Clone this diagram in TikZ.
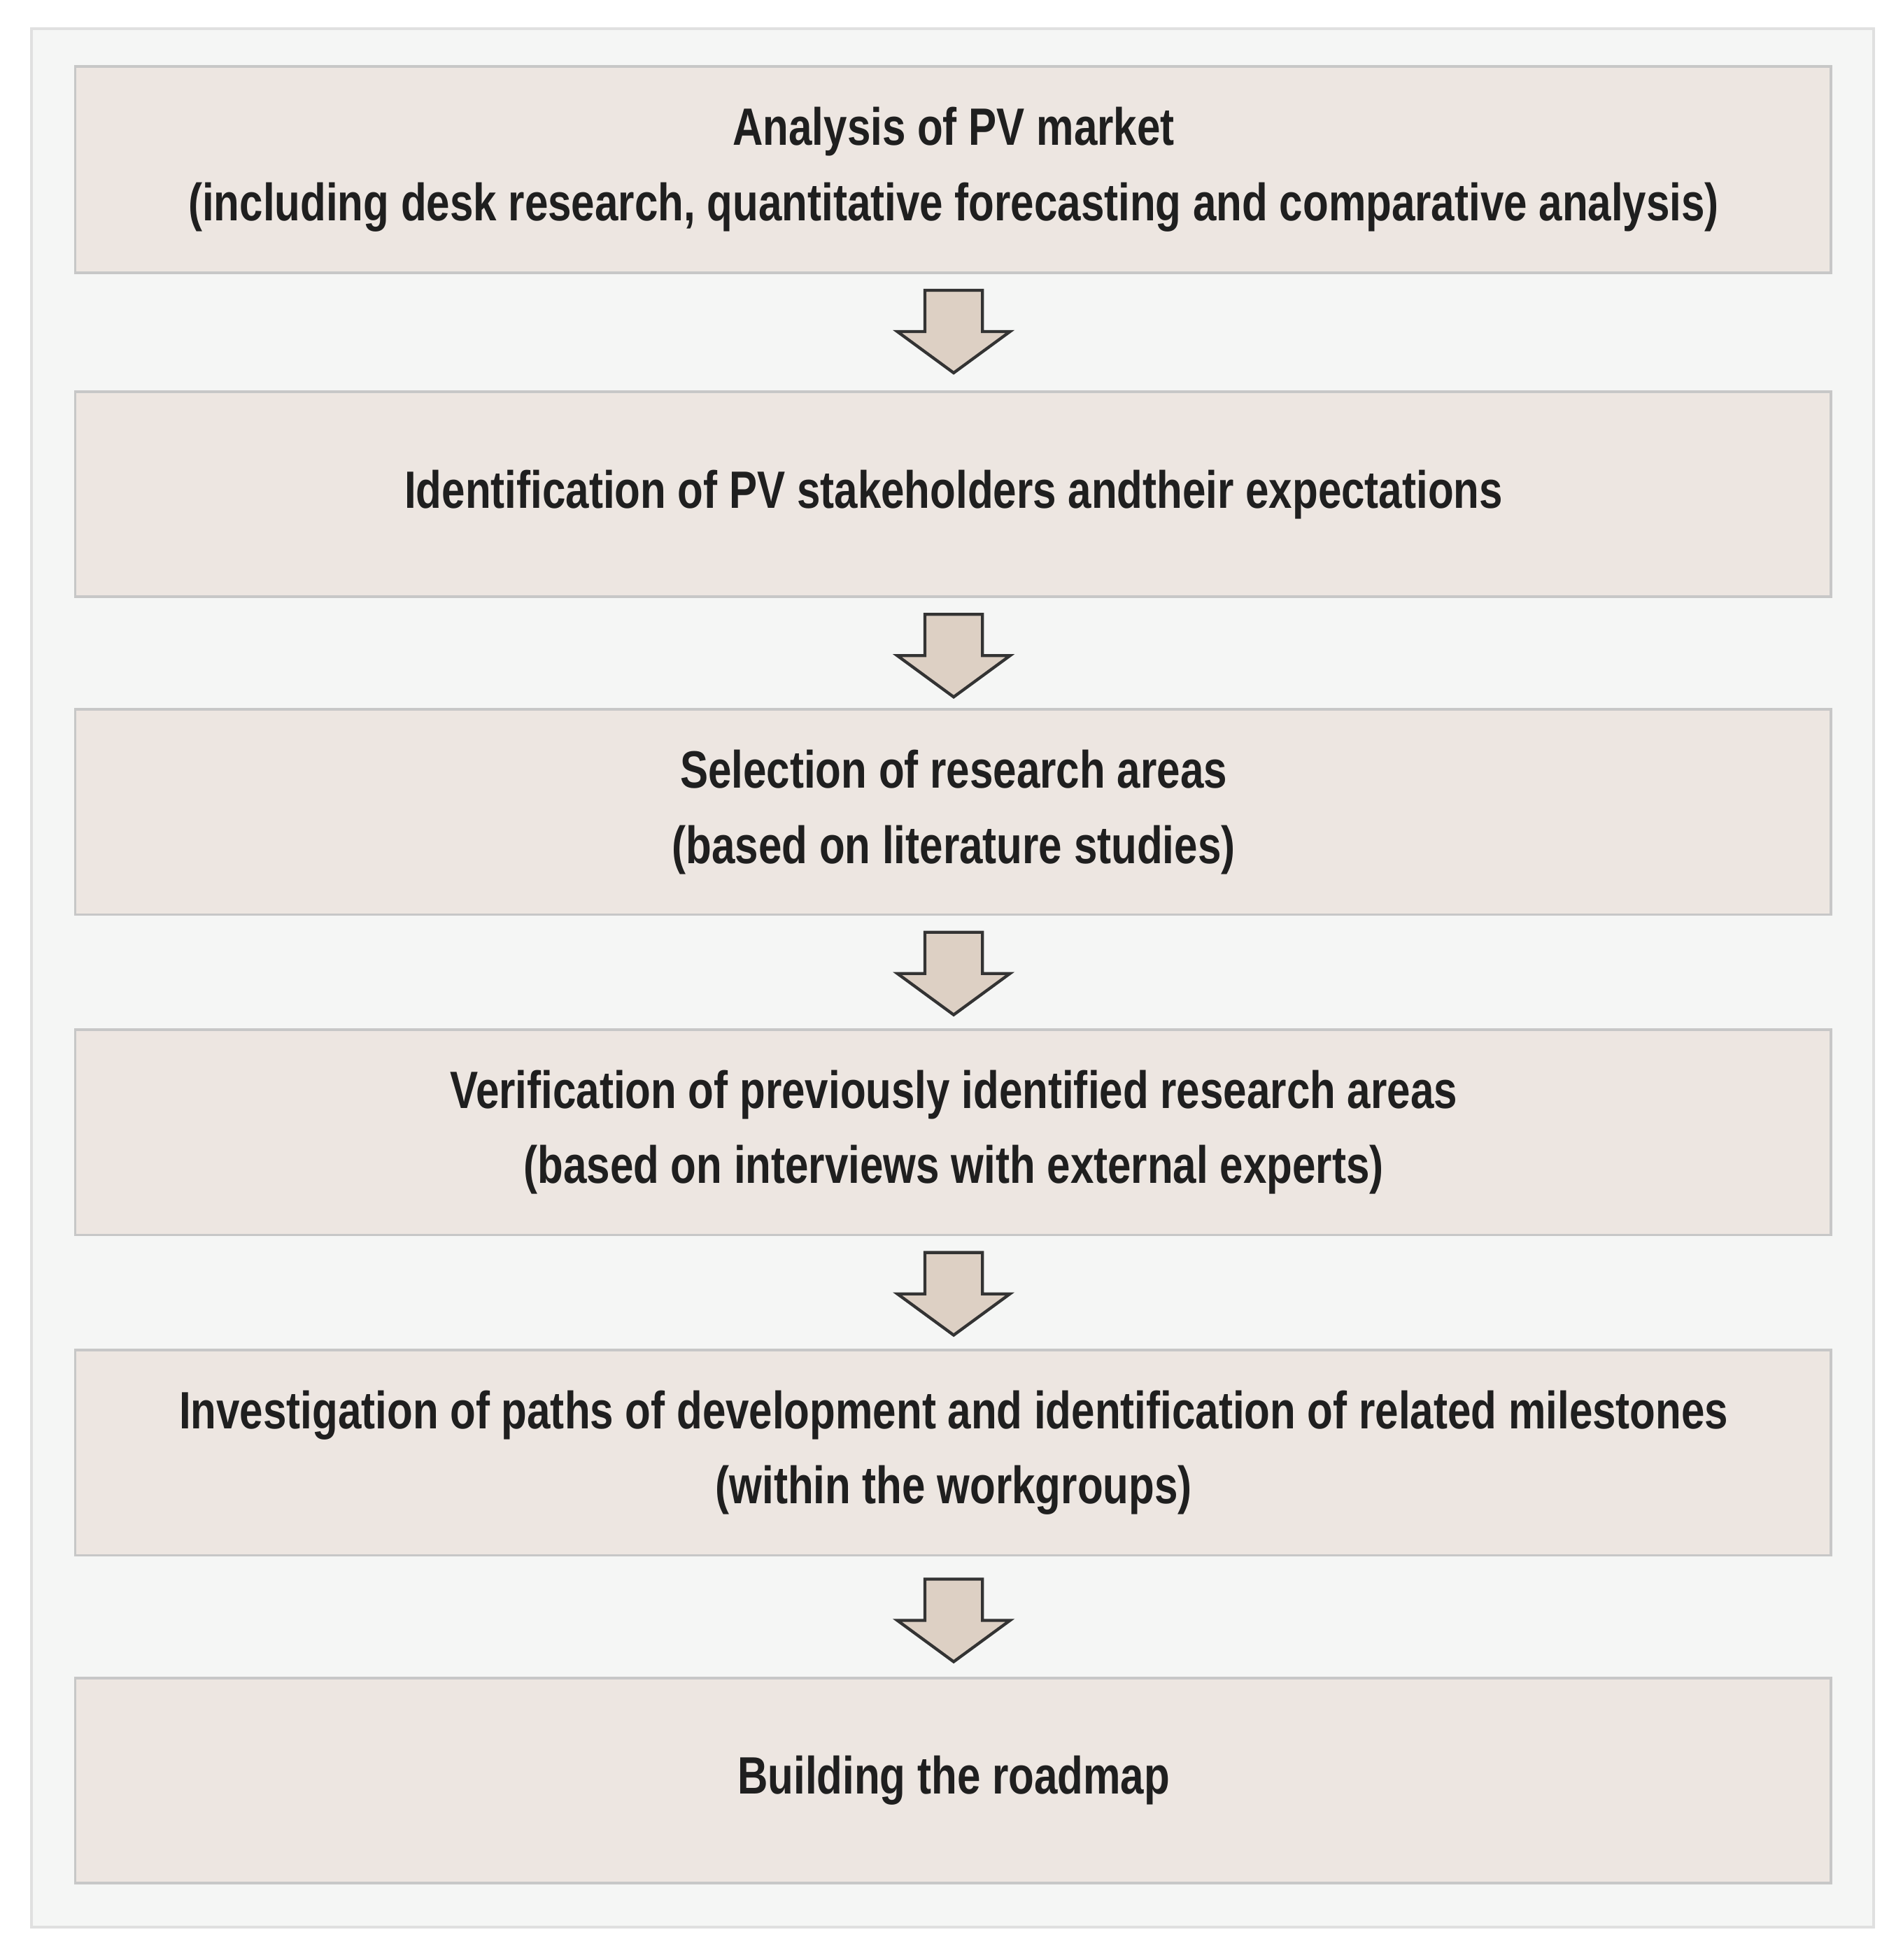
\documentclass[tikz,border=0pt]{standalone}
\usepackage{fontspec}
\setmainfont{Liberation Sans}[FakeStretch=0.8]
\begin{document}
\begin{tikzpicture}[x=0.5pt,y=-0.5pt,
  box/.style={draw=black!22,fill=boxc,line width=1pt},
  lbl/.style={font=\bfseries\fontsize{21}{30}\selectfont,align=center,text=black!88}]
\definecolor{boxc}{HTML}{EDE6E1}
\definecolor{bgc}{HTML}{F5F6F5}
\definecolor{arc}{HTML}{DDD0C4}
\useasboundingbox (0,0) rectangle (1520,1566.4);
\fill[white] (0,0) rectangle (1520,1566.4);
\draw[fill=bgc,draw=black!12,line width=1pt] (25,23) rectangle (1497,1540);
\def\ys{53/218/1,313/477/2,567/731/3,823/987/4,1079/1243/5,1341/1505/6}
\foreach \a/\b/\n in \ys {\draw[box] (60,\a) rectangle (1463,\b); \coordinate (c\n) at (762,{(\a+\b)/2});}
\node[lbl] (t1) at (c1) {Analysis of PV market\\(including desk research, quantitative forecasting and comparative analysis)};
\node[lbl] (t2) at (c2) {Identification of PV stakeholders andtheir expectations};
\node[lbl] (t3) at (c3) {Selection of research areas\\(based on literature studies)};
\node[lbl] (t4) at (c4) {Verification of previously identified research areas\\(based on interviews with external experts)};
\node[lbl] (t5) at (c5) {Investigation of paths of development and identification of related milestones\\(within the workgroups)};
\node[lbl] (t6) at (c6) {Building the roadmap};
\foreach \y in {232,491,745,1001,1262}{
  \draw[fill=arc,draw=black!80,line width=1.2pt,line join=miter]
   (739,\y) -- (785,\y) -- (785,\y+33) -- (807,\y+33) -- (762,\y+66) -- (717,\y+33) -- (739,\y+33) -- cycle;}
\end{tikzpicture}
\end{document}
